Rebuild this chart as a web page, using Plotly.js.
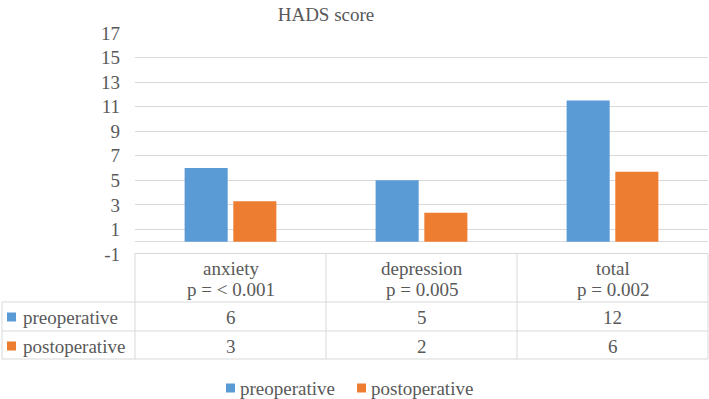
<!DOCTYPE html>
<html>
<head>
<meta charset="utf-8">
<script src="https://cdn.plot.ly/plotly-3.0.1.min.js"></script>
<style>
  html, body { margin: 0; padding: 0; background: #ffffff; font-family: 'Liberation Serif', serif; }
</style>
</head>
<body>
<div id="chart"></div>
<script>
// HADS score, before and after surgery
const categories = ['anxiety', 'depression', 'total'];
const pValues = ['p = < 0.001', 'p = 0.005', 'p = 0.002'];
const seriesNames = ['preoperative', 'postoperative'];
const preoperative = [6.0, 5.0, 11.5];
const postoperative = [3.3, 2.35, 5.7];
const yTickValues = [-1, 1, 3, 5, 7, 9, 11, 13, 15, 17];
const yTickLabels = ['-1', '1', '3', '5', '7', '9', '11', '13', '15', '17'];

const seriesValues = [preoperative, postoperative];
const seriesColors = ['#5B9BD5', '#ED7D31'];
const FONT = 'Liberation Serif';
const TEXT = '#595959';
const RULE = '#D9D9D9';

// page geometry (pixels) of the plotting area
const W = 709, H = 399;
const L = 135, R = 708, T = 33, B = 254;
const px = x => (x - L) / (R - L);
const py = y => (B - y) / (B - T);

const traces = seriesNames.map((name, i) => ({
  type: 'bar',
  name: name,
  x: categories,
  y: seriesValues[i],
  marker: { color: seriesColors[i], line: { width: 0 } },
  hoverinfo: 'skip'
}));

const shapes = [];
const annotations = [];
const hLine = (x0, x1, y) => shapes.push({
  type: 'line', xref: 'paper', yref: 'paper',
  x0: px(x0), x1: px(x1), y0: py(y), y1: py(y),
  line: { color: RULE, width: 1 }, layer: 'above'
});
const vLine = (x, y0, y1) => shapes.push({
  type: 'line', xref: 'paper', yref: 'paper',
  x0: px(x), x1: px(x), y0: py(y0), y1: py(y1),
  line: { color: RULE, width: 1 }, layer: 'above'
});
const swatch = (x, y, color) => shapes.push({
  type: 'rect', xref: 'paper', yref: 'paper',
  x0: px(x), x1: px(x + 9), y0: py(y), y1: py(y + 9),
  fillcolor: color, line: { width: 0 }, layer: 'above'
});
const label = (text, x, y, anchor) => annotations.push({
  text: text, xref: 'paper', yref: 'paper', x: px(x), y: py(y),
  xanchor: anchor, yanchor: 'middle', showarrow: false,
  font: { family: FONT, size: 19, color: TEXT }
});

// data table under the plot
const colEdges = [135, 326, 517, 708];
const headTop = 253.5, headBottom = 302, rowBottoms = [331, 359];
hLine(135, 708, headTop);
hLine(2, 708, headBottom);
rowBottoms.forEach(y => hLine(2, 708, y));
colEdges.forEach(x => vLine(x, headTop, 359));
vLine(2, headBottom, 359);

categories.forEach((cat, c) => {
  const cx = (colEdges[c] + colEdges[c + 1]) / 2;
  label(cat, cx, 268, 'center');
  label(pValues[c], cx, 289, 'center');
});

const rowCenters = [317, 346];
seriesNames.forEach((name, r) => {
  swatch(7, rowCenters[r] - 4.5, seriesColors[r]);
  label(name, 21, rowCenters[r], 'left');
  seriesValues[r].forEach((v, c) => {
    const cx = (colEdges[c] + colEdges[c + 1]) / 2;
    label(String(Math.round(v)), cx, rowCenters[r], 'center');
  });
});

// legend along the bottom
const legendX = [226, 357];
seriesNames.forEach((name, i) => {
  swatch(legendX[i], 383.5, seriesColors[i]);
  label(name, legendX[i] + 12, 388, 'left');
});

const layout = {
  width: W, height: H,
  margin: { l: L, r: W - R, t: T, b: H - B, pad: 0 },
  paper_bgcolor: '#ffffff', plot_bgcolor: '#ffffff',
  font: { family: FONT, size: 19, color: TEXT },
  title: {
    text: 'HADS score',
    font: { family: FONT, size: 19, color: TEXT },
    xref: 'paper', x: px(326), xanchor: 'center',
    yref: 'container', y: 1 - 14 / H, yanchor: 'middle'
  },
  showlegend: false,
  barmode: 'group',
  bargap: 0.49,
  bargroupgap: 0.116,
  xaxis: {
    type: 'category', range: [-0.5, 2.5],
    showticklabels: false, showgrid: false, zeroline: false, showline: false,
    fixedrange: true
  },
  yaxis: {
    range: [-1, 17],
    tickvals: yTickValues, ticktext: yTickLabels,
    showgrid: true, gridcolor: RULE, gridwidth: 1,
    zeroline: true, zerolinecolor: RULE, zerolinewidth: 1,
    showline: false, ticks: '', ticklabelstandoff: 14,
    tickfont: { family: FONT, size: 19, color: TEXT },
    fixedrange: true
  },
  shapes: shapes,
  annotations: annotations
};

const draw = () => Plotly.react('chart', traces, layout, { displayModeBar: false });
draw();
// redraw once the serif face is ready so text metrics use it
if (document.fonts && document.fonts.load) {
  document.fonts.load('19px "Liberation Serif"').then(draw);
}
</script>
</body>
</html>
